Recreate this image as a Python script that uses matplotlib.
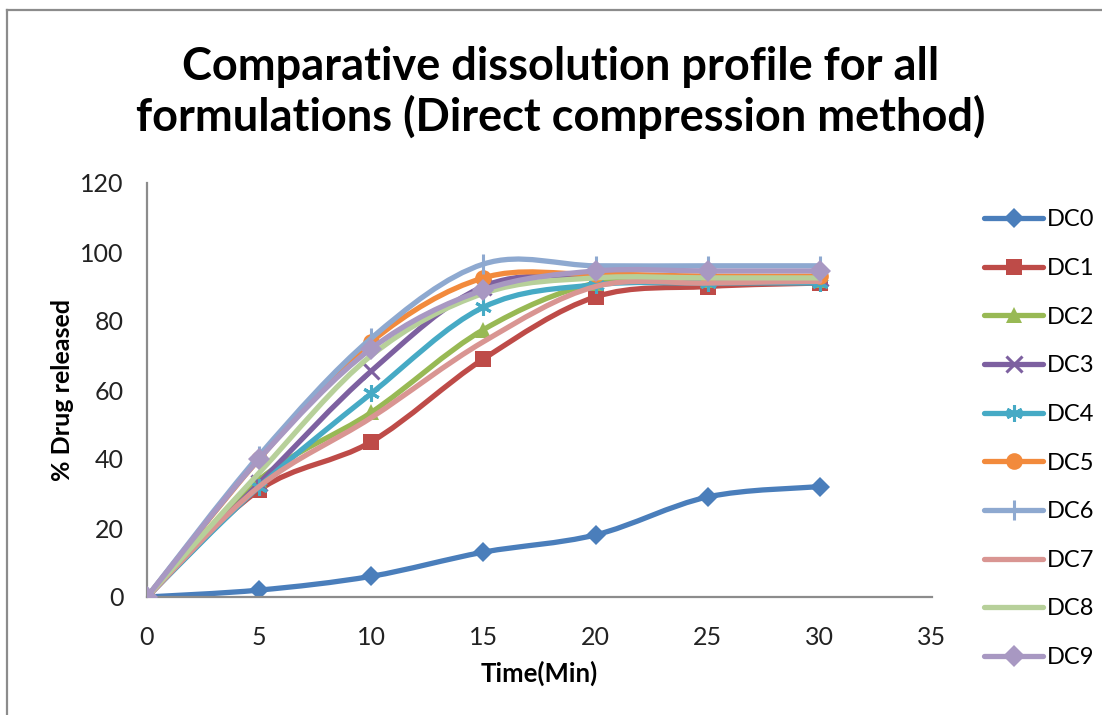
import numpy as np
import matplotlib
matplotlib.use("Agg")
import matplotlib.pyplot as plt
from matplotlib.path import Path
from matplotlib.patches import PathPatch
from matplotlib.lines import Line2D

plt.rcParams['font.family'] = ['Lato', 'DejaVu Sans']

time = [0, 5, 10, 15, 20, 25, 30]
series_names = ["DC0", "DC1", "DC2", "DC3", "DC4", "DC5", "DC6", "DC7", "DC8", "DC9"]
DC0 = [0, 2, 6, 13, 18, 29, 32]
DC1 = [0, 31, 45, 69, 87, 90, 91]
DC2 = [0, 34, 53.5, 77.5, 91, 92, 92]
DC3 = [0, 33, 65.5, 90, 93, 92.5, 92.5]
DC4 = [0, 32, 59, 84, 90.5, 91, 91]
DC5 = [0, 40, 74, 92.5, 93.5, 93, 93]
DC6 = [0, 41, 75, 96.5, 96, 96, 96]
DC7 = [0, 32, 52, 74, 90, 91, 91.5]
DC8 = [0, 36, 70, 88, 92.5, 92.5, 92.5]
DC9 = [0, 40, 72, 89, 94.5, 94.5, 94.5]
values = [DC0, DC1, DC2, DC3, DC4, DC5, DC6, DC7, DC8, DC9]

colors = ["#4A7EBB", "#BE4B48", "#98B954", "#7D60A0", "#46AAC5",
          "#F28A3C", "#8EA9D0", "#D99592", "#B7D09A", "#A898C2"]
markers = ["D", "s", "^", "x", (6, 2, 0), "o", "|", "None", "None", "D"]
msizes = [10, 11, 11, 11, 12, 12, 14, 0, 0, 11]

fig = plt.figure(figsize=(11.02, 7.15), dpi=100)
ax = fig.add_axes([147/1102, 1-597/715, 785/1102, 414/715])


def smooth_path(xs, ys):
    pts = np.column_stack([xs, ys]).astype(float)
    n = len(pts)
    verts = [pts[0]]
    codes = [Path.MOVETO]
    for i in range(n - 1):
        p0 = pts[i - 1] if i > 0 else pts[i]
        p1 = pts[i]
        p2 = pts[i + 1]
        p3 = pts[i + 2] if i + 2 < n else pts[i + 1]
        c1 = p1 + (p2 - p0) / 6.0
        c2 = p2 - (p3 - p1) / 6.0
        verts += [c1, c2, p2]
        codes += [Path.CURVE4] * 3
    return Path(verts, codes)


def mew_for(mk):
    return 2.2 if mk in ("x", "|") or isinstance(mk, tuple) else 0


handles = []
for k, (name, ys) in enumerate(zip(series_names, values)):
    col = colors[k]
    patch = PathPatch(smooth_path(time, ys), facecolor='none', edgecolor=col,
                      lw=3.8, capstyle='round', joinstyle='round', zorder=2 + k)
    ax.add_patch(patch)
    mk = markers[k]
    if mk != "None":
        ax.plot(time, ys, ls='none', marker=mk, ms=msizes[k], color=col,
                mec=col, mew=mew_for(mk), zorder=2 + k)
    h = Line2D([0], [0], color=col, lw=3.8, solid_capstyle='round',
               marker=mk, ms=msizes[k], mec=col, mew=mew_for(mk))
    handles.append(h)

ax.set_xlim(0, 35)
ax.set_ylim(0, 120)
ax.set_xticks(range(0, 36, 5))
ax.set_yticks(range(0, 121, 20))
ax.tick_params(length=0, labelsize=18, colors='#222222')
ax.tick_params(axis='y', pad=17)
ax.tick_params(axis='x', pad=21)
for s in ['top', 'right']:
    ax.spines[s].set_visible(False)
for s in ['left', 'bottom']:
    ax.spines[s].set_color('#8c8c8c')
    ax.spines[s].set_linewidth(1.6)

ax.set_xlabel("Time(Min)", fontsize=18.5, fontweight='bold', labelpad=8)
ax.set_ylabel("% Drug released", fontsize=18, fontweight='bold', labelpad=4)

fig.text(0.509, 0.871, "Comparative dissolution profile for all\nformulations (Direct compression method)",
         ha='center', va='center', fontsize=32.5, fontweight='bold', linespacing=1.18)

leg = fig.legend(handles=handles, labels=series_names, loc='upper left',
                 bbox_to_anchor=(975/1102, 1-200/715), frameon=False,
                 fontsize=17, handlelength=2.5, handletextpad=0.15,
                 labelspacing=1.17, borderaxespad=0)

# outer chart border (cropped)
fig.add_artist(Line2D([7/1102, 7/1102], [0, 1-10/715], transform=fig.transFigure,
                      color='#8c8c8c', lw=1.6))
fig.add_artist(Line2D([7/1102, 1], [1-10/715, 1-10/715], transform=fig.transFigure,
                      color='#8c8c8c', lw=1.6))

fig.savefig("out.png", dpi=100)
